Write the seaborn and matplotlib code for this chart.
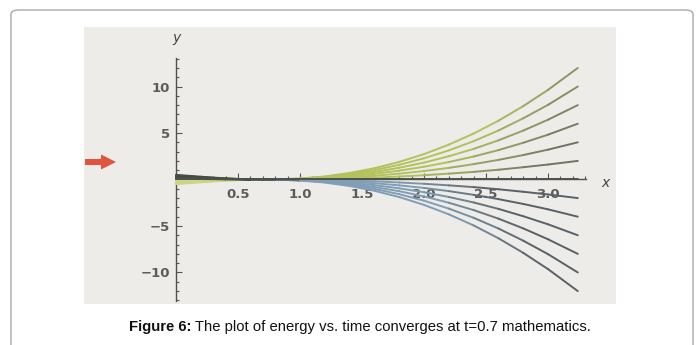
import numpy as np
import pandas as pd
import matplotlib
matplotlib.use("Agg")
import matplotlib.pyplot as plt
import seaborn as sns
from matplotlib.patches import FancyBboxPatch, FancyArrow
from matplotlib.ticker import FixedLocator

# ---------------- data ----------------
x_vals = [0.0, 0.2, 0.4, 0.6, 0.7, 0.8, 1.0, 1.2, 1.4, 1.6, 1.8, 2.0, 2.2, 2.4, 2.6, 2.8, 3.0, 3.24]

curve_p6 = [-0.50, -0.30, -0.12, -0.01, 0.0, 0.01, 0.11, 0.33, 0.70, 1.21, 1.89, 2.73, 3.75, 4.94, 6.32, 7.89, 9.64, 12.00]
curve_p5 = [-0.42, -0.25, -0.10, -0.01, 0.0, 0.01, 0.09, 0.28, 0.58, 1.01, 1.58, 2.28, 3.13, 4.12, 5.27, 6.58, 8.03, 10.00]
curve_p4 = [-0.33, -0.20, -0.08, -0.01, 0.0, 0.01, 0.07, 0.22, 0.47, 0.81, 1.26, 1.82, 2.50, 3.29, 4.21, 5.26, 6.43, 8.00]
curve_p3 = [-0.25, -0.15, -0.06, 0.00, 0.0, 0.00, 0.06, 0.17, 0.35, 0.61, 0.95, 1.37, 1.88, 2.47, 3.16, 3.95, 4.82, 6.00]
curve_p2 = [-0.17, -0.10, -0.04, 0.00, 0.0, 0.00, 0.04, 0.11, 0.23, 0.40, 0.63, 0.91, 1.25, 1.65, 2.11, 2.63, 3.21, 4.00]
curve_p1 = [-0.08, -0.05, -0.02, 0.00, 0.0, 0.00, 0.02, 0.06, 0.12, 0.20, 0.32, 0.46, 0.63, 0.82, 1.05, 1.32, 1.61, 2.00]
curve_0 = [0.0] * 18
curve_m1 = [0.08, 0.05, 0.02, 0.00, 0.0, 0.00, -0.02, -0.06, -0.12, -0.20, -0.32, -0.46, -0.63, -0.82, -1.05, -1.32, -1.61, -2.00]
curve_m2 = [0.17, 0.10, 0.04, 0.00, 0.0, 0.00, -0.04, -0.11, -0.23, -0.40, -0.63, -0.91, -1.25, -1.65, -2.11, -2.63, -3.21, -4.00]
curve_m3 = [0.25, 0.15, 0.06, 0.00, 0.0, 0.00, -0.06, -0.17, -0.35, -0.61, -0.95, -1.37, -1.88, -2.47, -3.16, -3.95, -4.82, -6.00]
curve_m4 = [0.33, 0.20, 0.08, 0.01, 0.0, -0.01, -0.07, -0.22, -0.47, -0.81, -1.26, -1.82, -2.50, -3.29, -4.21, -5.26, -6.43, -8.00]
curve_m5 = [0.42, 0.25, 0.10, 0.01, 0.0, -0.01, -0.09, -0.28, -0.58, -1.01, -1.58, -2.28, -3.13, -4.12, -5.27, -6.58, -8.03, -10.00]
curve_m6 = [0.50, 0.30, 0.12, 0.01, 0.0, -0.01, -0.11, -0.33, -0.70, -1.21, -1.89, -2.73, -3.75, -4.94, -6.32, -7.89, -9.64, -12.00]

x_major_ticks = [0.5, 1.0, 1.5, 2.0, 2.5, 3.0]
x_tick_labels = ["0.5", "1.0", "1.5", "2.0", "2.5", "3.0"]
y_major_ticks = [-10, -5, 5, 10]
y_tick_labels = ["\u221210", "\u22125", "5", "10"]

caption_bold = "Figure 6:"
caption_rest = " The plot of energy vs. time converges at t=0.7 mathematics."

# ---------------- style ----------------
sns.set_theme(style="white")
plt.rcParams["font.family"] = ["DejaVu Sans"]

W, H = 696, 345
fig = plt.figure(figsize=(W / 100, H / 100), dpi=100)
fig.patch.set_facecolor("white")

# outer rounded frame
frame = FancyBboxPatch((11 / W, -0.2), (693 - 11) / W, (345 - 10) / H + 0.2,
                       boxstyle="round,pad=0,rounding_size=0.012",
                       transform=fig.transFigure, facecolor="none",
                       edgecolor="#a9a9a9", linewidth=1.0, zorder=0)
fig.patches.append(frame)

ax = fig.add_axes([84 / W, 1 - 304 / H, (616 - 84) / W, (304 - 27) / H])
ax.set_facecolor("#eeece8")
ax.set_xlim(-0.742, 3.548)
ax.set_ylim(-13.39, 16.40)


def mix(c1, c2, t):
    return tuple(a + (b - a) * t for a, b in zip(c1, c2))


GREEN = (0.70, 0.76, 0.36)
GREEN_LIGHT = (0.80, 0.83, 0.52)
GRAY_P = (0.44, 0.45, 0.40)
BLUE = (0.50, 0.62, 0.71)
DARK = (0.27, 0.30, 0.27)
GRAY_N = (0.35, 0.38, 0.40)


def seg_color(k, xm):
    if k == 0:
        return (0.30, 0.32, 0.30)
    if k > 0:
        if xm < 0.7:
            return GREEN_LIGHT
        t = float(np.clip((xm - (1.75 + 0.13 * k)) / 1.1, 0, 1))
        return mix(GREEN, GRAY_P, t)
    a = -k
    if xm < 0.7:
        return DARK
    t_in = float(np.clip((xm - 0.7) / 0.4, 0, 1))
    c = mix(DARK, BLUE, t_in)
    t_out = float(np.clip((xm - (1.75 + 0.08 * a)) / 0.7, 0, 1))
    return mix(c, GRAY_N, t_out)


curves = [(1, curve_p1), (2, curve_p2), (3, curve_p3), (4, curve_p4), (5, curve_p5), (6, curve_p6),
          (-1, curve_m1), (-2, curve_m2), (-3, curve_m3), (-4, curve_m4), (-5, curve_m5), (-6, curve_m6),
          (0, curve_0)]

rows = []
palette = {}
for k, ys in curves:
    for i in range(len(x_vals) - 1):
        seg = f"c{k}_s{i}"
        rows.append((x_vals[i], ys[i], seg))
        rows.append((x_vals[i + 1], ys[i + 1], seg))
        palette[seg] = seg_color(k, 0.5 * (x_vals[i] + x_vals[i + 1]))
df = pd.DataFrame(rows, columns=["x", "y", "seg"])

sns.lineplot(data=df, x="x", y="y", hue="seg", palette=palette, estimator=None,
             sort=False, legend=False, linewidth=1.4, ax=ax, solid_capstyle="round")

# axes through origin (Mathematica style)
for s in ["top", "right"]:
    ax.spines[s].set_visible(False)
ax.spines["left"].set_position(("data", 0))
ax.spines["bottom"].set_position(("data", 0))
ax.spines["left"].set_bounds(-13.1, 13.1)
ax.spines["bottom"].set_bounds(0, 3.31)
for s in ["left", "bottom"]:
    ax.spines[s].set_color("#4f4f4f")
    ax.spines[s].set_linewidth(1.0)
    ax.spines[s].set_zorder(1.6)

ax.xaxis.set_major_locator(FixedLocator(x_major_ticks))
ax.xaxis.set_minor_locator(FixedLocator(np.round(np.arange(0.1, 3.31, 0.1), 2)))
ax.yaxis.set_major_locator(FixedLocator(y_major_ticks))
ax.yaxis.set_minor_locator(FixedLocator(np.arange(-13, 14, 1)))
ax.set_xticklabels(x_tick_labels)
ax.set_yticklabels(y_tick_labels)
ax.tick_params(axis="both", which="both", direction="in", color="#555555", width=0.8,
               bottom=True, left=True)
ax.tick_params(axis="both", which="major", length=4.5)
ax.tick_params(axis="both", which="minor", length=2.5)
ax.tick_params(axis="x", which="major", pad=6)
ax.tick_params(axis="y", which="major", pad=4.5)
for lab in ax.get_xticklabels() + ax.get_yticklabels():
    lab.set_fontsize(9.5)
    lab.set_fontweight("bold")
    lab.set_color("#5c5c5c")
ax.set_xlabel("")
ax.set_ylabel("")

ax.text(0.0, 15.2, "y", fontsize=10, style="italic", color="#444444", ha="center", va="center")
ax.text(3.46, -0.35, "x", fontsize=10, style="italic", color="#444444", ha="center", va="center")

# red arrow marker at the left
arrow = FancyArrow(85 / W, 1 - 162 / H, 31 / W, 0, width=6 / H, head_width=15 / H,
                   head_length=15 / W, length_includes_head=True, transform=fig.transFigure,
                   color="#e0533c", linewidth=0, zorder=5)
fig.patches.append(arrow)

# caption
cap_font = ["Liberation Sans", "DejaVu Sans"]
cy = 1 - 327 / H
t1 = fig.text(0, cy, caption_bold, fontsize=10.7, fontweight="bold", family=cap_font,
              color="#111111", va="center", ha="left")
t2 = fig.text(0, cy, caption_rest, fontsize=10.7, family=cap_font, color="#111111",
              va="center", ha="left")
fig.canvas.draw()
r = fig.canvas.get_renderer()
w1 = t1.get_window_extent(r).width
w2 = t2.get_window_extent(r).width
x0 = 360 - (w1 + w2) / 2
t1.set_x(x0 / W)
t2.set_x((x0 + w1) / W)

fig.savefig("out.png", dpi=100)
